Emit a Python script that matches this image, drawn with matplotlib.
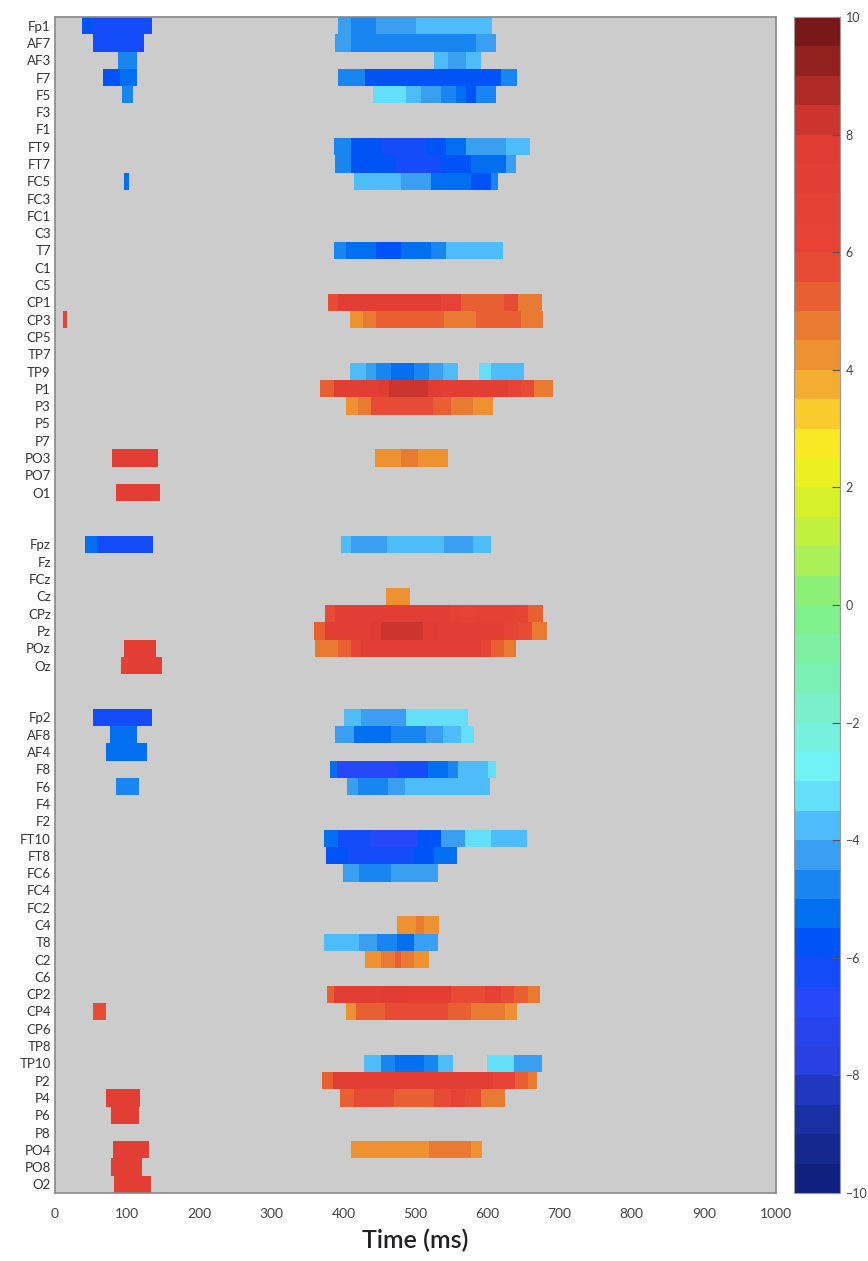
"""
Significant-effect raster: channel x time, coloured by t-value.
Output: out.png
"""

import matplotlib
matplotlib.use("Agg")
import matplotlib.pyplot as plt
from matplotlib.colors import LinearSegmentedColormap, BoundaryNorm
from matplotlib.cm import ScalarMappable
import numpy as np

plt.rcParams["font.family"] = ["Lato", "DejaVu Sans"]

# ---- channels (top to bottom), two blank rows between groups ----
CH_LEFT = ["Fp1", "AF7", "AF3", "F7", "F5", "F3", "F1", "FT9", "FT7", "FC5",
           "FC3", "FC1", "C3", "T7", "C1", "C5", "CP1", "CP3", "CP5", "TP7",
           "TP9", "P1", "P3", "P5", "P7", "PO3", "PO7", "O1"]
CH_MID = ["Fpz", "Fz", "FCz", "Cz", "CPz", "Pz", "POz", "Oz"]
CH_RIGHT = ["Fp2", "AF8", "AF4", "F8", "F6", "F4", "F2", "FT10", "FT8", "FC6",
            "FC4", "FC2", "C4", "T8", "C2", "C6", "CP2", "CP4", "CP6", "TP8",
            "TP10", "P2", "P4", "P6", "P8", "PO4", "PO8", "O2"]

# ---- significant runs per channel: (start ms, end ms, t-value) ----
RUNS_LEFT = {
    "Fp1": [(38, 50, -5.6), (50, 135, -6.2),
            (392, 410, -4.5), (410, 445, -4.9), (445, 500, -4.2),
            (500, 560, -3.7), (560, 606, -4.0)],
    "AF7": [(52, 124, -6.3),
            (389, 410, -4.5), (410, 472, -5.0), (472, 584, -4.6), (584, 612, -4.2)],
    "AF3": [(88, 114, -5.0),
            (526, 545, -3.8), (545, 570, -4.2), (570, 591, -3.8)],
    "F7": [(66, 90, -5.6), (90, 114, -5.2),
           (392, 430, -5.0), (430, 493, -5.7), (493, 590, -6.0),
           (590, 618, -5.6), (618, 641, -4.6)],
    "F5": [(93, 108, -5.0),
           (441, 487, -3.4), (487, 507, -4.0), (507, 535, -4.5), (535, 556, -4.9),
           (556, 570, -5.3), (570, 584, -5.8), (584, 612, -5.0)],
    "FT9": [(387, 410, -5.0), (410, 452, -5.7), (452, 514, -6.4), (514, 542, -6.0),
            (542, 570, -5.1), (570, 626, -4.5), (626, 659, -4.0)],
    "FT7": [(388, 410, -5.0), (410, 473, -5.7), (473, 535, -6.3), (535, 577, -5.9),
            (577, 626, -5.2), (626, 640, -4.5)],
    "FC5": [(96, 102, -5.2),
            (414, 480, -4.0), (480, 522, -4.5), (522, 577, -5.2), (577, 605, -5.6),
            (605, 615, -4.7)],
    "T7": [(387, 403, -5.0), (403, 445, -5.5), (445, 480, -5.9), (480, 522, -5.4),
           (522, 542, -4.7), (542, 622, -4.0)],
    "CP1": [(378, 392, 5.5), (392, 535, 7.0), (535, 563, 6.0), (563, 587, 5.3),
            (587, 623, 5.0), (623, 642, 5.5), (642, 675, 4.8)],
    "CP3": [(11, 17, 6.0),
            (409, 427, 4.3), (427, 445, 4.7), (445, 540, 5.3), (540, 584, 4.8),
            (584, 647, 5.2), (647, 677, 4.5)],
    "TP9": [(409, 431, -3.6), (431, 445, -4.2), (445, 466, -4.7), (466, 498, -5.2),
            (498, 519, -4.7), (519, 538, -4.3), (538, 559, -3.7),
            (588, 605, -3.5), (605, 650, -4.0)],
    "P1": [(367, 387, 5.0), (387, 448, 7.0), (448, 463, 7.5), (463, 517, 8.3),
           (517, 535, 7.5), (535, 628, 7.0), (628, 647, 6.0), (647, 665, 5.5),
           (665, 691, 4.8)],
    "P3": [(403, 420, 4.3), (420, 438, 4.8), (438, 524, 5.6), (524, 549, 5.0),
           (549, 580, 4.6), (580, 608, 4.2)],
    "PO3": [(79, 143, 7.0),
            (444, 480, 4.3), (480, 503, 4.8), (503, 545, 4.3)],
    "O1": [(85, 146, 7.0)],
}

RUNS_MID = {
    "Fpz": [(41, 58, -5.5), (58, 136, -6.2),
            (397, 410, -4.0), (410, 461, -4.5), (461, 540, -3.8), (540, 580, -4.5),
            (580, 605, -3.8)],
    "Cz": [(459, 493, 4.2)],
    "CPz": [(375, 389, 5.5), (389, 452, 7.0), (452, 490, 7.4), (490, 549, 7.0),
            (549, 563, 6.5), (563, 584, 6.0), (584, 637, 6.8), (637, 656, 6.0),
            (656, 677, 5.0)],
    "Pz": [(359, 375, 5.0), (375, 438, 7.0), (438, 452, 7.5), (452, 510, 8.3),
           (510, 531, 7.5), (531, 623, 7.0), (623, 642, 6.0), (642, 661, 5.5),
           (661, 682, 4.8)],
    "POz": [(96, 140, 7.0),
            (361, 392, 4.5), (392, 410, 5.3), (410, 424, 6.3), (424, 591, 7.0),
            (591, 605, 6.0), (605, 623, 5.0), (623, 640, 4.5)],
    "Oz": [(92, 100, 6.0), (100, 149, 7.0)],
}

RUNS_RIGHT = {
    "Fp2": [(53, 135, -6.2),
            (401, 424, -4.0), (424, 461, -4.5), (461, 487, -4.2), (487, 573, -3.4)],
    "AF8": [(76, 114, -5.2),
            (389, 415, -4.5), (415, 466, -5.2), (466, 489, -4.9), (489, 515, -4.6),
            (515, 538, -4.2), (538, 563, -4.0), (563, 581, -3.5)],
    "AF4": [(71, 128, -5.4)],
    "F8": [(381, 391, -5.5), (391, 475, -6.6), (475, 517, -6.2), (517, 545, -5.5),
           (545, 559, -5.0), (559, 601, -4.0), (601, 611, -3.5)],
    "F6": [(85, 116, -5.0),
           (405, 420, -4.3), (420, 462, -4.7), (462, 485, -4.4), (485, 603, -3.8)],
    "FT10": [(373, 392, -5.5), (392, 438, -6.2), (438, 503, -6.6), (503, 535, -5.9),
             (535, 568, -4.5), (568, 605, -3.4), (605, 642, -3.9), (642, 655, -3.6)],
    "FT8": [(376, 406, -5.7), (406, 498, -6.4), (498, 526, -5.9), (526, 558, -5.4)],
    "FC6": [(399, 421, -4.3), (421, 466, -4.7), (466, 494, -4.4), (494, 531, -4.3)],
    "C4": [(474, 500, 4.3), (500, 512, 4.6), (512, 533, 4.3)],
    "T8": [(373, 421, -3.7), (421, 447, -4.2), (447, 475, -4.9), (475, 498, -5.2),
           (498, 531, -4.5)],
    "C2": [(430, 452, 4.3), (452, 471, 4.8), (471, 480, 5.3), (480, 498, 4.9),
           (498, 519, 4.4)],
    "CP2": [(377, 387, 5.0), (387, 452, 7.0), (452, 489, 7.8), (489, 549, 7.0),
            (549, 596, 5.8), (596, 619, 6.5), (619, 637, 5.8), (637, 656, 5.2),
            (656, 673, 4.6)],
    "CP4": [(53, 71, 5.7),
            (403, 417, 4.3), (417, 457, 5.1), (457, 545, 5.8), (545, 577, 5.1),
            (577, 603, 4.7), (603, 624, 4.5), (624, 641, 4.2)],
    "TP10": [(429, 452, -3.8), (452, 471, -4.7), (471, 512, -5.4), (512, 531, -4.7),
             (531, 552, -3.8),
             (599, 637, -3.5), (637, 676, -4.1)],
    "P2": [(370, 385, 5.0), (385, 608, 7.0), (608, 638, 6.0), (638, 656, 5.3),
           (656, 668, 4.6)],
    "P4": [(71, 118, 7.0),
           (395, 415, 5.2), (415, 470, 5.6), (470, 526, 5.2), (526, 549, 5.5),
           (549, 568, 6.3), (568, 591, 5.5), (591, 624, 4.5)],
    "P6": [(78, 116, 7.0)],
    "PO4": [(81, 131, 7.0),
            (411, 519, 4.1), (519, 577, 4.6), (577, 592, 4.2)],
    "PO8": [(78, 121, 7.0)],
    "O2": [(82, 133, 7.0)],
}

CBAR_TICKS = [-10, -8, -6, -4, -2, 0, 2, 4, 6, 8, 10]
X_TICKS = [0, 100, 200, 300, 400, 500, 600, 700, 800, 900, 1000]

# ---- colour map: 40 discrete steps of 0.5 from -10 to 10 ----
stops = [
    (-10.0, "#102080"), (-9.0, "#1830a0"), (-8.0, "#2840e0"), (-7.0, "#2848f8"),
    (-6.0, "#0050f8"), (-5.5, "#006cf0"), (-5.0, "#1080f0"), (-4.5, "#389cf0"),
    (-4.0, "#48b4f8"), (-3.5, "#5cd4f8"), (-3.0, "#70f4fc"), (-2.0, "#78f0d0"),
    (-1.0, "#7cf0a8"), (0.0, "#80f080"), (1.0, "#b8f048"), (2.0, "#e0f020"),
    (2.5, "#f8f020"), (3.0, "#fce028"), (3.5, "#f8c030"), (4.0, "#f0a232"),
    (4.5, "#ec8a30"), (5.0, "#e87232"), (5.5, "#e85a32"), (6.0, "#e84436"),
    (8.0, "#e03c32"), (8.5, "#c8342c"), (9.0, "#a82822"), (10.0, "#781818"),
]
cmap = LinearSegmentedColormap.from_list(
    "tval", [((v + 10) / 20, c) for v, c in stops])
levels = np.linspace(-10, 10, 41)
norm = BoundaryNorm(levels, 256)

# ---- row layout ----
rows = CH_LEFT + ["", ""] + CH_MID + ["", ""] + CH_RIGHT
runs = {**RUNS_LEFT, **RUNS_MID, **RUNS_RIGHT}

fig = plt.figure(figsize=(8.68, 12.61), dpi=100)
ax = fig.add_axes([0.0634, 0.0539, 0.8306, 0.9326])
cax = fig.add_axes([0.9147, 0.0539, 0.0530, 0.9326])

ax.set_facecolor("#cccccc")
for i, ch in enumerate(rows):
    for t0, t1, val in runs.get(ch, []):
        ax.barh(i, t1 - t0, left=t0, height=1.0, color=cmap(norm(val)),
                edgecolor="none", linewidth=0)

ax.set_xlim(0, 1000)
ax.set_ylim(len(rows) - 0.5, -0.5)
ax.set_yticks(range(len(rows)))
ax.set_yticklabels(rows, fontsize=9.5, color="#333333")
ax.set_xticks(X_TICKS)
ax.set_xticklabels([str(t) for t in X_TICKS], fontsize=10, color="#444444")
ax.tick_params(axis="both", length=0, pad=3)
ax.tick_params(axis="x", pad=11)
ax.set_xlabel("Time (ms)", fontsize=18, fontweight="semibold", color="#222222",
              labelpad=6)
for sp in ax.spines.values():
    sp.set_color("#888888")
    sp.set_linewidth(1.2)

# ---- colour bar ----
sm = ScalarMappable(norm=norm, cmap=cmap)
cb = fig.colorbar(sm, cax=cax, ticks=CBAR_TICKS, boundaries=levels)
cb.minorticks_off()
cb.outline.set_edgecolor("#999999")
cb.outline.set_linewidth(0.8)
cax.tick_params(direction="in", length=6, width=0.8, color="#555555",
                labelsize=9, labelcolor="#444444", pad=4)

fig.savefig("out.png", dpi=100)
